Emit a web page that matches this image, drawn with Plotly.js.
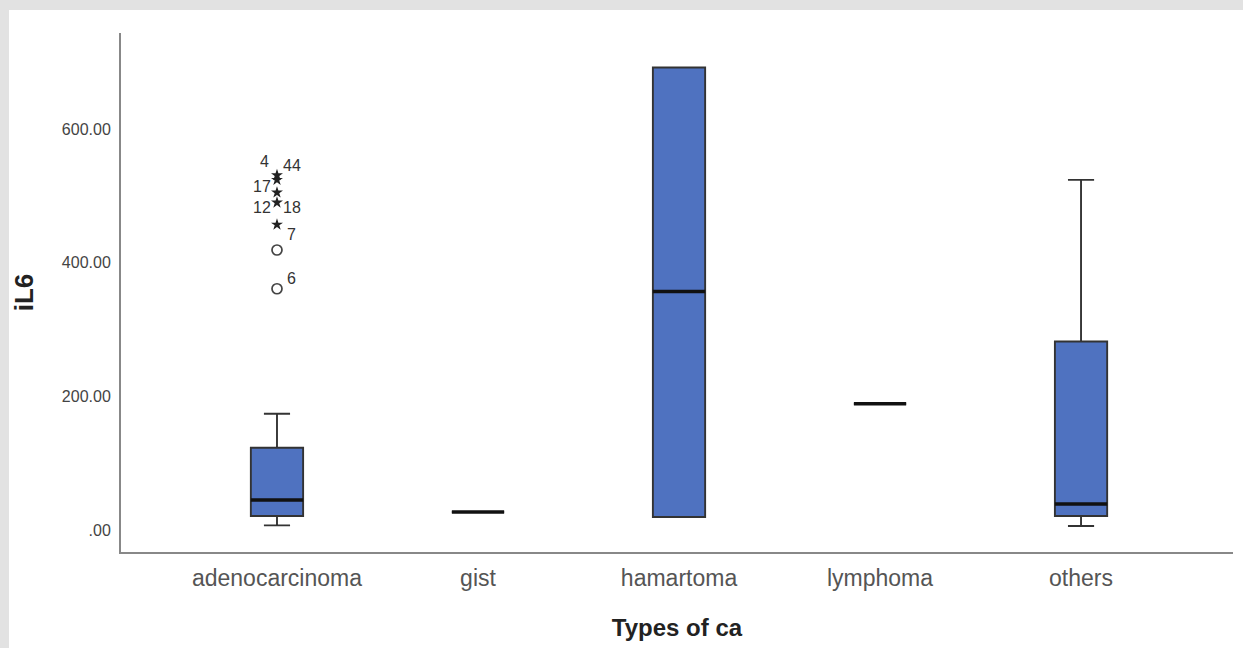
<!DOCTYPE html>
<html>
<head>
<meta charset="utf-8">
<script src="https://cdn.plot.ly/plotly-3.0.1.min.js"></script>
<style>
  html, body { margin: 0; padding: 0; background: #e2e2e2; width: 1243px; height: 648px; overflow: hidden; }
  #chart { position: absolute; left: 9px; top: 10px; width: 1234px; height: 638px; background: #fff; }
</style>
</head>
<body>
<div id="chart"></div>
<script>
// Categories and box statistics (iL6 by type of ca)
const categories = ["adenocarcinoma", "gist", "hamartoma", "lymphoma", "others"];
const lowerFence = [7, 27, 19.5, 189, 6];
const q1Values   = [21, 27, 19.5, 189, 21];
const medianVals = [45, 27, 357, 189, 39];
const q3Values   = [123, 27, 692, 189, 282];
const upperFence = [174, 27, 692, 189, 524];

// Outliers (adenocarcinoma)
const circleOutliers = [361, 419];
const starOutliers = [457, 490, 505, 524, 531];
// Case labels for outliers: text, value at label, side (-1 left, +1 right)
const caseLabels = ["6", "7", "18", "12", "17", "44", "4"];
const caseLabelY = [377, 442, 482, 482, 514, 545, 551];
const caseLabelSide = [1, 1, 1, -1, -1, 1, -0.8];

// Y tick labels
const yTickVals = [0, 200, 400, 600];
const yTickText = [".00", "200.00", "400.00", "600.00"];

const xIdx = categories.map((c, i) => i);
const boxWidth = 0.26;

const traces = [];
traces.push({
  type: "box",
  x: xIdx,
  q1: q1Values,
  median: medianVals,
  q3: q3Values,
  lowerfence: lowerFence,
  upperfence: upperFence,
  width: boxWidth,
  whiskerwidth: 0.5,
  fillcolor: "rgb(79,114,192)",
  line: { color: "#333333", width: 1.9 },
  boxpoints: false,
  hoverinfo: "skip",
  showlegend: false
});

// Thick median lines
const mx = [], my = [];
xIdx.forEach((i) => {
  mx.push(i - boxWidth / 2, i + boxWidth / 2, null);
  my.push(medianVals[i], medianVals[i], null);
});
traces.push({
  type: "scatter", mode: "lines", x: mx, y: my,
  line: { color: "#111111", width: 3.4 },
  hoverinfo: "skip", showlegend: false
});

traces.push({
  type: "scatter", mode: "markers",
  x: circleOutliers.map(() => 0), y: circleOutliers,
  marker: { symbol: "circle-open", size: 10, color: "#444444", line: { width: 1.7, color: "#444444" } },
  hoverinfo: "skip", showlegend: false
});
traces.push({
  type: "scatter", mode: "markers",
  x: starOutliers.map(() => 0), y: starOutliers,
  marker: { symbol: "star", size: 9, color: "#222222" },
  hoverinfo: "skip", showlegend: false
});

const annotations = caseLabels.map((t, k) => ({
  x: 0, y: caseLabelY[k], xref: "x", yref: "y",
  text: t, showarrow: false,
  xshift: caseLabelSide[k] * 15,
  font: { family: "Liberation Sans, Arial, sans-serif", size: 16, color: "#333333" }
}));

const layout = {
  width: 1234, height: 638,
  margin: { l: 112, r: 10, t: 23, b: 96 },
  paper_bgcolor: "#ffffff",
  plot_bgcolor: "#ffffff",
  showlegend: false,
  xaxis: {
    range: [-0.776, 4.756],
    tickvals: xIdx,
    ticktext: categories,
    showgrid: false, zeroline: false,
    showline: true, linecolor: "#888888", linewidth: 2,
    ticks: "", ticklabelstandoff: 4,
    tickfont: { family: "Liberation Sans, Arial, sans-serif", size: 23, color: "#555555" },
    title: { text: "Types of ca", standoff: 30,
      font: { family: "Liberation Sans, Arial, sans-serif", size: 24, color: "#222222", weight: "bold" } }
  },
  yaxis: {
    range: [-32.9, 743.7],
    tickvals: yTickVals,
    ticktext: yTickText,
    showgrid: false, zeroline: false,
    showline: true, linecolor: "#888888", linewidth: 2,
    ticks: "", ticklabelstandoff: 5,
    tickfont: { family: "Liberation Sans, Arial, sans-serif", size: 16, color: "#444444" },
    title: { text: "iL6", standoff: 46,
      font: { family: "Liberation Sans, Arial, sans-serif", size: 26, color: "#222222", weight: "bold" } }
  },
  annotations: annotations
};

Plotly.newPlot("chart", traces, layout, { displayModeBar: false, staticPlot: true });
</script>
</body>
</html>
